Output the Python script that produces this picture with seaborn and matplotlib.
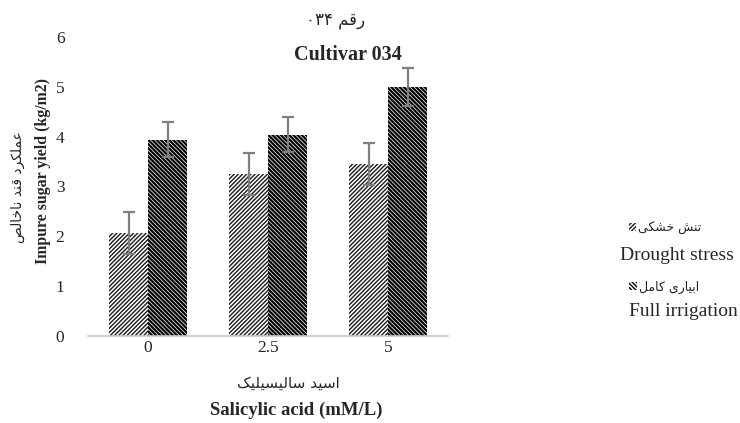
import numpy as np
import pandas as pd
import matplotlib
matplotlib.use("Agg")
import matplotlib.pyplot as plt
import seaborn as sns

# ---- data -------------------------------------------------------------
doses = ["0", "2.5", "5"]
drought_yield = [2.07, 3.25, 3.45]
drought_err = [0.42, 0.42, 0.42]
full_yield = [3.94, 4.04, 5.00]
full_err = [0.35, 0.35, 0.38]
series_fa = ["تنش خشکی", "ابیاری کامل"]
series_en = ["Drought stress", "Full irrigation"]
yticks = [0, 1, 2, 3, 4, 5, 6]

title_fa = "رقم"
title_num = "۰۳۴"
title_en = "Cultivar 034"
ylabel_fa = "عملکرد قند ناخالص"
ylabel_en = "Impure sugar yield (kg/m2)"
xlabel_fa = "اسید سالیسیلیک"
xlabel_en = "Salicylic acid (mM/L)"

# ---- minimal Persian shaping (contextual forms + RTL order) -----------
FORMS = {
    "ا": ("\uFE8D", "\uFE8E", None, None),
    "ب": ("\uFE8F", "\uFE90", "\uFE91", "\uFE92"),
    "ت": ("\uFE95", "\uFE96", "\uFE97", "\uFE98"),
    "خ": ("\uFEA5", "\uFEA6", "\uFEA7", "\uFEA8"),
    "د": ("\uFEA9", "\uFEAA", None, None),
    "ر": ("\uFEAD", "\uFEAE", None, None),
    "س": ("\uFEB1", "\uFEB2", "\uFEB3", "\uFEB4"),
    "ش": ("\uFEB5", "\uFEB6", "\uFEB7", "\uFEB8"),
    "ص": ("\uFEB9", "\uFEBA", "\uFEBB", "\uFEBC"),
    "ع": ("\uFEC9", "\uFECA", "\uFECB", "\uFECC"),
    "ق": ("\uFED5", "\uFED6", "\uFED7", "\uFED8"),
    "ل": ("\uFEDD", "\uFEDE", "\uFEDF", "\uFEE0"),
    "م": ("\uFEE1", "\uFEE2", "\uFEE3", "\uFEE4"),
    "ن": ("\uFEE5", "\uFEE6", "\uFEE7", "\uFEE8"),
    "ک": ("\uFB8E", "\uFB8F", "\uFB90", "\uFB91"),
    "ی": ("\uFBFC", "\uFBFD", "\uFBFE", "\uFBFF"),
}


def shape_fa(s):
    def dual(c):
        return c in FORMS and FORMS[c][2] is not None

    out = []
    for i, c in enumerate(s):
        if c not in FORMS:
            out.append(c)
            continue
        prev = s[i - 1] if i > 0 else None
        nxt = s[i + 1] if i + 1 < len(s) else None
        jp = prev is not None and dual(prev)
        jn = dual(c) and nxt is not None and nxt in FORMS
        iso, fin, ini, med = FORMS[c]
        if jp and jn:
            out.append(med)
        elif jp:
            out.append(fin)
        elif jn:
            out.append(ini)
        else:
            out.append(iso)
    return "".join(reversed(out))


# ---- styling ----------------------------------------------------------
sns.set_theme(style="white")
plt.rcParams["font.family"] = ["Liberation Serif", "DejaVu Sans"]
plt.rcParams["hatch.linewidth"] = 1.0
FA = ["DejaVu Sans"]
SERIF = ["Liberation Serif", "DejaVu Sans"]

df = pd.DataFrame({
    "dose": doses * 2,
    "yield": drought_yield + full_yield,
    "err": drought_err + full_err,
    "series": [series_en[0]] * 3 + [series_en[1]] * 3,
})

fig = plt.figure(figsize=(7.4, 4.23), dpi=100)
ax = fig.add_axes([88 / 740, (423 - 336) / 423, 360 / 740, (336 - 37) / 423])

sns.barplot(data=df, x="dose", y="yield", hue="series", order=doses,
            hue_order=series_en, palette=["white", "white"], width=0.65,
            errorbar=None, legend=False, ax=ax, saturation=1)

hatches = ["/" * 8, "\\" * 8]
hatch_colors = ["#1a1a1a", "black"]
hatch_widths = [1.0, 1.6]
bar_groups = list(ax.containers)
for k, cont in enumerate(bar_groups):
    sub = df[df["series"] == series_en[k]].set_index("dose").loc[doses]
    xs = [p.get_x() + p.get_width() / 2 for p in cont.patches]
    for p in cont.patches:
        p.set_hatch(hatches[k])
        p.set_edgecolor(hatch_colors[k])
        p.set_linewidth(0)
        if hasattr(p, "set_hatch_linewidth"):
            p.set_hatch_linewidth(hatch_widths[k])
    ax.errorbar(xs, sub["yield"].values, yerr=sub["err"].values, fmt="none",
                ecolor="#7f7f7f", elinewidth=1.6, capsize=4.5, capthick=1.6,
                zorder=5)

ax.set_xlim(-0.5, 2.5)
ax.set_ylim(0, 6)
ax.set_yticks(yticks)
ax.set_yticklabels([str(v) for v in yticks], family=SERIF, fontsize=12.5)
ax.set_xticks(range(len(doses)))
ax.set_xticklabels(doses, family=SERIF, fontsize=12.5)
ax.tick_params(axis="y", length=0, pad=17)
ax.tick_params(axis="x", length=0, pad=3)
ax.set_xlabel("")
ax.set_ylabel("")
for side in ["top", "right", "left"]:
    ax.spines[side].set_visible(False)
ax.spines["bottom"].set_color("#c8c8c8")
ax.spines["bottom"].set_linewidth(1.2)
ax.grid(False)

# titles and axis labels
fig.text(336 / 740, 1 - 20 / 423, title_num + " " + shape_fa(title_fa),
         family=FA, fontsize=12, ha="center", va="center")
fig.text(348 / 740, 1 - 55 / 423, title_en, family=SERIF, fontsize=14.5,
         weight="bold", ha="center", va="center")
fig.text(18 / 740, 1 - 187 / 423, shape_fa(ylabel_fa), family=FA, fontsize=10,
         rotation=90, ha="center", va="center")
fig.text(43 / 740, 1 - 171 / 423, ylabel_en, family=SERIF, fontsize=11.4,
         weight="bold", rotation=90, ha="center", va="center")
fig.text(288 / 740, 1 - 383 / 423, shape_fa(xlabel_fa), family=FA, fontsize=11,
         ha="center", va="center")
fig.text(296 / 740, 1 - 410 / 423, xlabel_en, family=SERIF, fontsize=13.5,
         weight="bold", ha="center", va="center")

# legend: small swatch + Persian label, English label beneath it
fa_rows = [228, 287]
en_rows = [255, 311]
fa_centers = [665, 664]
en_centers = [677, 683]
for k in range(len(series_en)):
    fig.legend([bar_groups[k].patches[0]], [shape_fa(series_fa[k])],
               loc="center", bbox_to_anchor=(fa_centers[k] / 740, 1 - fa_rows[k] / 423),
               frameon=False, markerfirst=True, handlelength=0.6,
               handleheight=0.6, handletextpad=0.15, borderpad=0,
               prop={"family": FA, "size": 9})
    fig.text(en_centers[k] / 740, 1 - en_rows[k] / 423, series_en[k], family=SERIF,
             fontsize=14, ha="center", va="center")

fig.savefig("out.png", dpi=100)
